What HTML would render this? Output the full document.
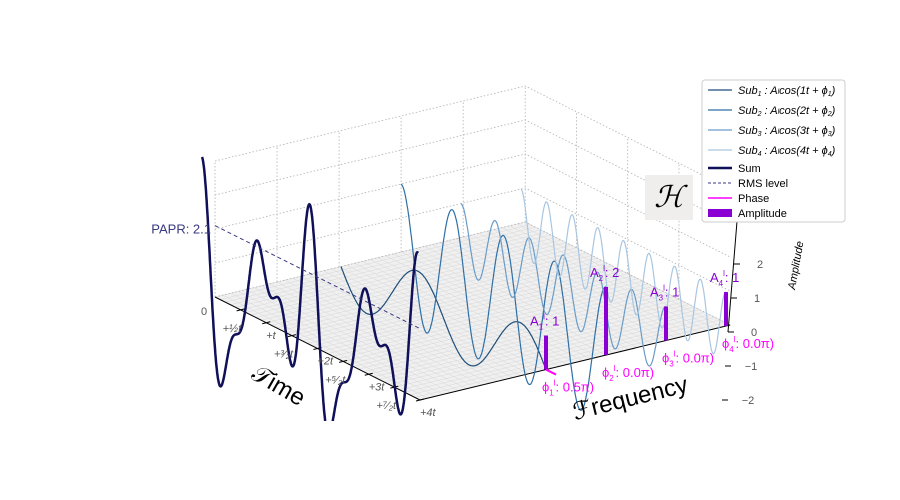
<!DOCTYPE html>
<html><head><meta charset="utf-8"><style>
html,body{margin:0;background:#fff;width:900px;height:500px;overflow:hidden;}
svg{font-family:"Liberation Sans","DejaVu Sans",sans-serif;display:block;}
</style></head><body>
<svg id="chart" width="900" height="500" viewBox="0 0 900 500" xmlns="http://www.w3.org/2000/svg">
<defs><clipPath id="clipSum"><rect x="0" y="0" width="900" height="421"/></clipPath></defs>
<g id="panes"></g>
<g id="curves"></g>
<g id="labels"></g>
<g id="legend" transform="translate(702,80)">
  <rect x="0" y="0" width="143" height="142" fill="#fff" stroke="#ccc" rx="3"/>
  <line x1="6" y1="10" x2="30" y2="10" stroke="#1f4e79" stroke-width="1.2"/>
  <text x="36" y="14" font-size="11" font-style="italic">Sub<tspan font-size="7" dy="2">1</tspan><tspan dy="-2"> : A</tspan><tspan font-size="7">l</tspan><tspan>cos(1t + ϕ</tspan><tspan font-size="7" dy="2">1</tspan><tspan dy="-2">)</tspan></text>
  <line x1="6" y1="30" x2="30" y2="30" stroke="#2e6fa7" stroke-width="1.2"/>
  <text x="36" y="34" font-size="11" font-style="italic">Sub<tspan font-size="7" dy="2">2</tspan><tspan dy="-2"> : A</tspan><tspan font-size="7">l</tspan><tspan>cos(2t + ϕ</tspan><tspan font-size="7" dy="2">2</tspan><tspan dy="-2">)</tspan></text>
  <line x1="6" y1="50" x2="30" y2="50" stroke="#6a9cc8" stroke-width="1.2"/>
  <text x="36" y="54" font-size="11" font-style="italic">Sub<tspan font-size="7" dy="2">3</tspan><tspan dy="-2"> : A</tspan><tspan font-size="7">l</tspan><tspan>cos(3t + ϕ</tspan><tspan font-size="7" dy="2">3</tspan><tspan dy="-2">)</tspan></text>
  <line x1="6" y1="70" x2="30" y2="70" stroke="#a9c6e0" stroke-width="1.2"/>
  <text x="36" y="74" font-size="11" font-style="italic">Sub<tspan font-size="7" dy="2">4</tspan><tspan dy="-2"> : A</tspan><tspan font-size="7">l</tspan><tspan>cos(4t + ϕ</tspan><tspan font-size="7" dy="2">4</tspan><tspan dy="-2">)</tspan></text>
  <line x1="6" y1="88" x2="30" y2="88" stroke="#10105a" stroke-width="2.5"/>
  <text x="36" y="92" font-size="11">Sum</text>
  <line x1="6" y1="103" x2="30" y2="103" stroke="#3a3a80" stroke-width="1" stroke-dasharray="3,2"/>
  <text x="36" y="107" font-size="11">RMS level</text>
  <line x1="6" y1="118" x2="30" y2="118" stroke="#ff00ff" stroke-width="1.5"/>
  <text x="36" y="122" font-size="11">Phase</text>
  <rect x="6" y="129" width="24" height="8" fill="#8a00d4"/>
  <text x="36" y="137" font-size="11">Amplitude</text>
</g>
<g>
  <rect x="645" y="175" width="48" height="45" fill="#f0eeec"/>
  <text x="669" y="207" font-size="30" text-anchor="middle" font-family="Liberation Serif,serif" font-style="italic">ℋ</text>
</g>
</svg>
<script>
const freqs=[1,2,3,4];
const amps=[1,2,1,1];
const phases=[0.5,0,0,0];
const papr=2.1;
const timeTicks=[0.5,1,1.5,2,2.5,3,3.5,4];
const timeTickLabels=["+½t","+t","+³⁄₂t","+2t","+⁵⁄₂t","+3t","+⁷⁄₂t","+4t"];
const ampTicks=[-2,-1,0,1,2];
const subColors=["#1f4e79","#2e6fa7","#6a9cc8","#a9c6e0"];

const NS="http://www.w3.org/2000/svg";
const F0=-1.1,F1=4.07,T1=4,ZT=4.0;
function P(t,f,z){return [215+t*51.25+(f-F0)*60, 297+t*25.75-(f-F0)*14.5-z*34];}
function PS(t,z){return [202+t*54, 277+t*24-z*30];}
function mk(tag,attrs,parent,name,text){
  const el=document.createElementNS(NS,tag);
  for(const k in attrs) el.setAttribute(k,attrs[k]);
  
  
  if(text!==undefined) el.textContent=text;
  parent.appendChild(el);return el;
}
const panes=document.getElementById('panes'),curves=document.getElementById('curves'),labels=document.getElementById('labels');
function pts(a){return a.map(p=>p[0].toFixed(1)+","+p[1].toFixed(1)).join(" ");}
mk('polygon',{points:pts([P(0,F0,0),P(0,F1,0),P(T1,F1,0),P(T1,F0,0)]),fill:"#f0f0f0",stroke:"none"},panes,'floor-pane');
for(let i=0;i<=40;i++){const t=i*T1/40;mk('line',{x1:P(t,F0,0)[0],y1:P(t,F0,0)[1],x2:P(t,F1,0)[0],y2:P(t,F1,0)[1],stroke:"#d8d8d8","stroke-width":0.5},panes,'floor-grid-line');}
for(let i=0;i<=40;i++){const f=F0+i*(F1-F0)/40;mk('line',{x1:P(0,f,0)[0],y1:P(0,f,0)[1],x2:P(T1,f,0)[0],y2:P(T1,f,0)[1],stroke:"#d8d8d8","stroke-width":0.5},panes,'floor-grid-line');}
const dot={stroke:"#b0b0b0","stroke-width":0.8,"stroke-dasharray":"1.5,2",fill:"none"};
for(const z of [0,1,2,3,4]){
  mk('polyline',Object.assign({points:pts([P(0,F0,z),P(0,F1,z),P(T1,F1,z)])},dot),panes,'wall-grid-z');
}
for(let f=F0;f<=F1+0.01;f+=(F1-F0)/5){mk('line',Object.assign({x1:P(0,f,0)[0],y1:P(0,f,0)[1],x2:P(0,f,ZT)[0],y2:P(0,f,ZT)[1]},dot),panes,'wall-grid-f');}
for(const t of [1,2,3]){mk('line',Object.assign({x1:P(t,F1,0)[0],y1:P(t,F1,0)[1],x2:P(t,F1,ZT)[0],y2:P(t,F1,ZT)[1]},dot),panes,'wall-grid-t');}
let a=P(0,F0,0),b=P(T1,F0,0),c=P(T1,F1,0);
mk('line',{x1:a[0],y1:a[1],x2:b[0],y2:b[1],stroke:"#000","stroke-width":1},panes,'time-axis');
mk('line',{x1:b[0],y1:b[1],x2:c[0],y2:c[1],stroke:"#000","stroke-width":1},panes,'frequency-axis');
mk('line',{x1:728,y1:332,x2:742,y2:160,stroke:"#000","stroke-width":1},panes,'amplitude-axis');
timeTicks.forEach((t,i)=>{const p=P(t,F0,0);
  mk('line',{x1:p[0]-4,y1:p[1]+1,x2:p[0]+4,y2:p[1]-1,stroke:"#000"},panes,'time-tick');
  const off=(i%2==0)?[-8,22]:[10,16];
  mk('text',{x:p[0]+off[0]-10,y:p[1]+off[1],"font-size":11,fill:"#555","font-style":"italic"},labels,'time-tick-label',timeTickLabels[i]);
});
mk('text',{x:201,y:315,"font-size":11,fill:"#555"},labels,'time-tick-label','0');
ampTicks.forEach(z=>{const y=332-z*34;const x=742+z*3;
  mk('line',{x1:x-14,y1:y,x2:x-8,y2:y,stroke:"#000"},panes,'amplitude-tick');
  mk('text',{x:x+12,y:y+4,"font-size":11,fill:"#555","text-anchor":"middle"},labels,'amplitude-tick-label',z<0?"−"+(-z):String(z));
});
mk('text',{x:0,y:0,"font-size":11,"font-style":"italic",transform:"translate(795,290) rotate(-80)"},labels,'amplitude-axis-title','Amplitude');
mk('text',{x:0,y:0,"font-size":24,transform:"translate(250,378) rotate(30)"},labels,'time-axis-title','𝒯ime');
mk('text',{x:0,y:0,"font-size":24,transform:"translate(575,420) rotate(-14)"},labels,'frequency-axis-title','ℱrequency');
freqs.forEach((f,k)=>{const arr=[];for(let i=0;i<=400;i++){const t=i*T1/400;arr.push(P(t,f,amps[k]*Math.cos(f*Math.PI*t+phases[k]*Math.PI)));}
  mk('polyline',{points:pts(arr),fill:"none",stroke:subColors[k],"stroke-width":1.2},curves,'subcarrier-'+f+'-curve');});
const sarr=[];for(let i=0;i<=600;i++){const t=i*T1/600;let s=0;freqs.forEach((f,k)=>s+=amps[k]*Math.cos(f*Math.PI*t+phases[k]*Math.PI));sarr.push(PS(t,s));}
mk('polyline',{points:pts(sarr),fill:"none",stroke:"#10105a","stroke-width":2.5,"clip-path":"url(#clipSum)"},curves,'sum-curve');
a=P(0,F0,papr);b=P(T1,F0,papr);
mk('line',{x1:a[0],y1:a[1],x2:b[0],y2:b[1],stroke:"#3a3a80","stroke-width":1,"stroke-dasharray":"4,3"},curves,'rms-level-line');
mk('text',{x:a[0]-4,y:a[1]+8,"font-size":13,fill:"#3a3a80","text-anchor":"end"},labels,'papr-label','PAPR: '+papr);
freqs.forEach((f,k)=>{const p0=P(T1,f,0),p1=P(T1,f,amps[k]);
  mk('line',{x1:p0[0],y1:p0[1],x2:p1[0],y2:p1[1],stroke:"#8a00d4","stroke-width":4},curves,'amplitude-stem-'+f);
  if(phases[k]!==0){mk('line',{x1:p0[0],y1:p0[1],x2:p0[0]+10,y2:p0[1]+5,stroke:"#ff00ff","stroke-width":2},curves,'phase-marker-'+f);}
  const t1=mk('text',{x:p1[0]-16,y:p1[1]-10,"font-size":13,fill:"#8a00d4"},labels,'amplitude-label-'+f);
  t1.innerHTML='A<tspan font-size="8" dy="4">'+f+'</tspan><tspan font-size="8" dy="-10">l</tspan><tspan dy="6">: '+amps[k]+'</tspan>';
  const t2=mk('text',{x:p0[0]-4,y:p0[1]+22,"font-size":13,fill:"#ff00ff"},labels,'phase-label-'+f);
  t2.innerHTML='ϕ<tspan font-size="8" dy="4">'+f+'</tspan><tspan font-size="8" dy="-10">l</tspan><tspan dy="6">: '+phases[k].toFixed(1)+'π)</tspan>';
});
</script>
</body></html>
